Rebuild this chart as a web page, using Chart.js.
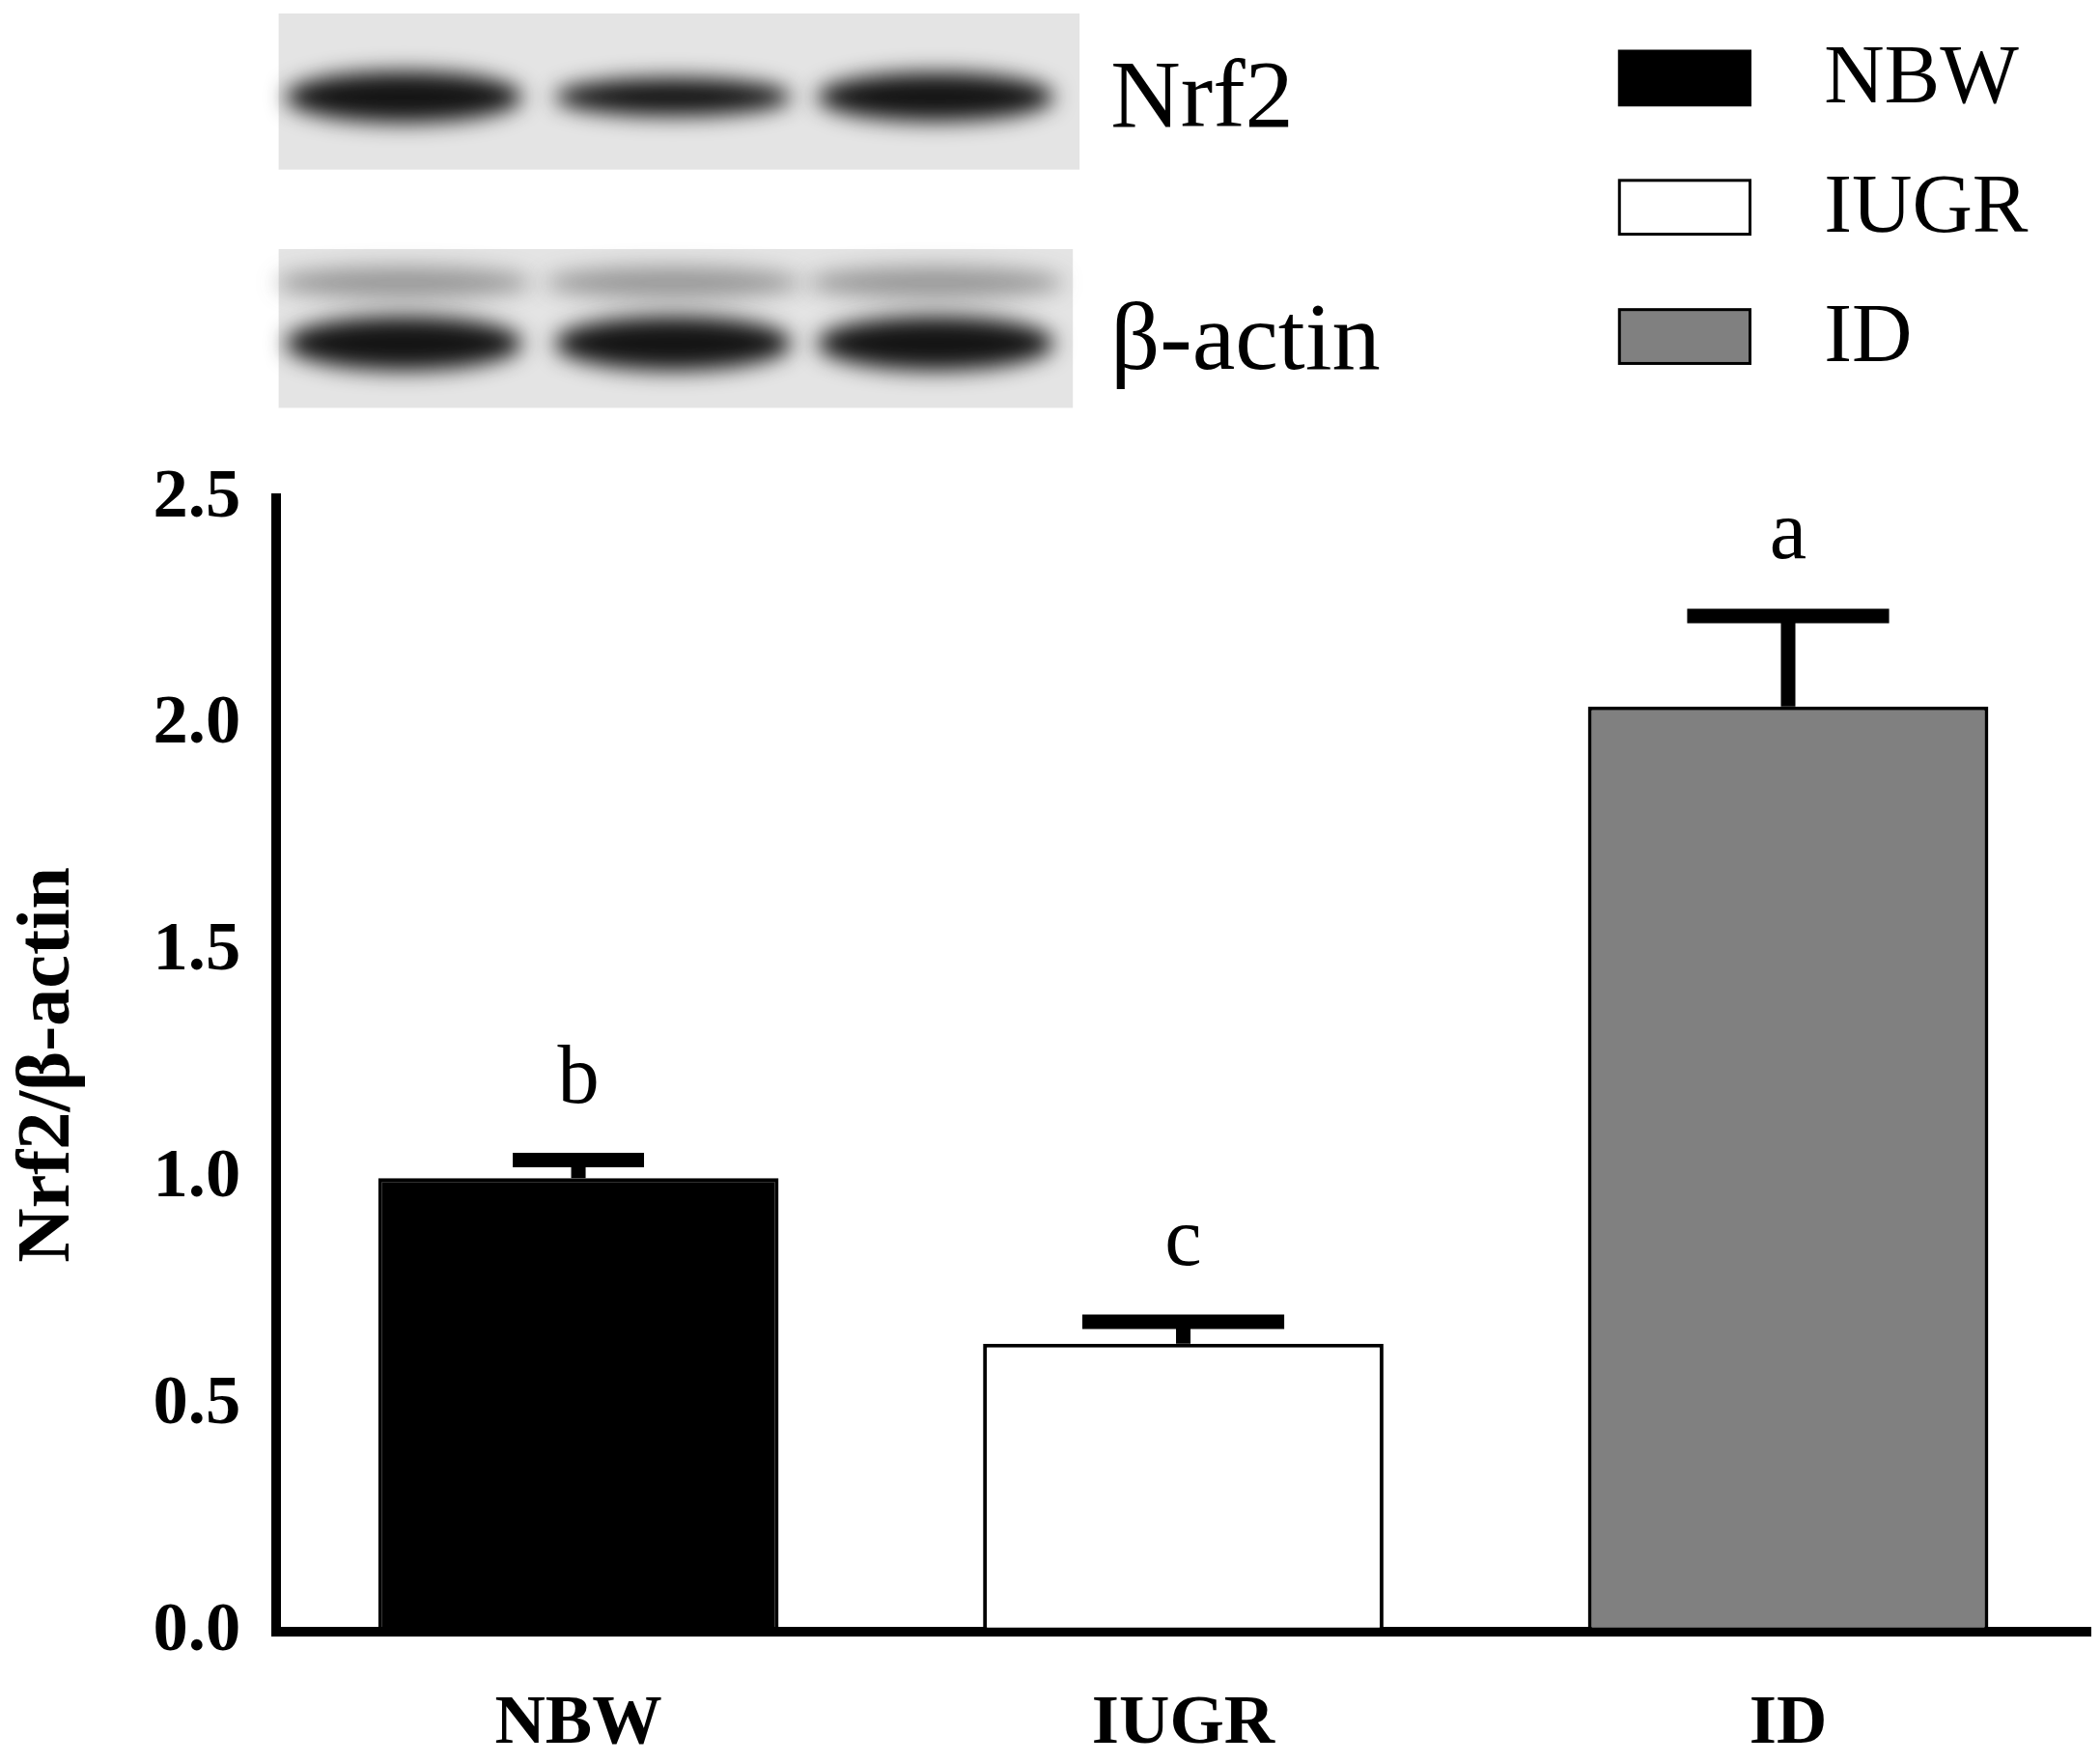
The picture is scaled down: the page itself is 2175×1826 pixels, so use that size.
<!DOCTYPE html>
<html>
<head>
<meta charset="utf-8">
<script src="https://cdn.jsdelivr.net/npm/chart.js@4.4.0/dist/chart.umd.min.js"></script>
<style>
  html, body { margin: 0; padding: 0; background: #fff; }
  #wrap { width: 2175px; height: 1826px; position: relative; }
</style>
</head>
<body>
<div id="wrap"><canvas id="chart"></canvas></div>
<script>
const groups = ["NBW", "IUGR", "ID"];
const means = [1.0, 0.635, 2.04];
const errors = [0.04, 0.048, 0.2];
const letters = ["b", "c", "a"];
const barColors = ["#000000", "#ffffff", "#808080"];
const yTicks = ["0.0", "0.5", "1.0", "1.5", "2.0", "2.5"];
const blotLabels = ["Nrf2", "β-actin"];

const S = 2175 / 1560;
const SERIF = "'Liberation Serif', 'Times New Roman', serif";

// blot picture, legend, error bars and letters
const extras = {
    id: "extras",
    afterDatasetsDraw(chart) {
        const ctx = chart.ctx;
        const meta = chart.getDatasetMeta(0);
        const y = chart.scales.y;
        ctx.save();

        // === error bars + letters ===
        meta.data.forEach((bar, i) => {
            const top = y.getPixelForValue(means[i] + errors[i]);
            ctx.strokeStyle = "#000";
            ctx.lineWidth = 15;
            ctx.beginPath();
            ctx.moveTo(bar.x, bar.y);
            ctx.lineTo(bar.x, top);
            ctx.moveTo(bar.x - 75 * S * (i === 0 ? 0.65 : 1), top);
            ctx.lineTo(bar.x + 75 * S * (i === 0 ? 0.65 : 1), top);
            ctx.stroke();
            ctx.fillStyle = "#000";
            ctx.font = `${62 * S}px ${SERIF}`;
            ctx.textAlign = "center";
            ctx.textBaseline = "bottom";
            ctx.fillText(letters[i], bar.x, top - 28 * S);
        });

        // === western blot strips ===
        const strips = [[207, 10, 595, 116], [207, 185, 590, 118]];
        strips.forEach((r, k) => {
            const [x, yy, w, h] = r.map(v => v * S);
            ctx.fillStyle = "#e4e4e4";
            ctx.fillRect(x, yy, w, h);
            ctx.filter = `blur(${8 * S}px)`;
            const lanes = [[300, k === 0 ? 0.95 : 1], [500, k === 0 ? 0.7 : 1], [695, k === 0 ? 0.9 : 1]];
            lanes.forEach(([cx, s]) => {
                if (k === 1) {
                    ctx.fillStyle = "rgba(60,60,60,0.45)";
                    ctx.beginPath();
                    ctx.ellipse(cx * S, (yy / S + 25) * S, 95 * S, 12 * S, 0, 0, Math.PI * 2);
                    ctx.fill();
                }
                ctx.fillStyle = "#141414";
                ctx.beginPath();
                ctx.ellipse(cx * S, (yy / S + (k === 0 ? 62 : 70)) * S, 88 * S, 20 * S * s, 0, 0, Math.PI * 2);
                ctx.fill();
            });
            ctx.filter = "none";
        });
        ctx.fillStyle = "#000";
        ctx.font = `${72 * S}px ${SERIF}`;
        ctx.textAlign = "left";
        ctx.textBaseline = "middle";
        ctx.fillText(blotLabels[0], 825 * S, 75 * S);
        ctx.fillText(blotLabels[1], 825 * S, 255 * S);

        // === legend ===
        groups.forEach((g, i) => {
            const by = (38 + i * 96) * S;
            ctx.fillStyle = barColors[i];
            ctx.fillRect(1203 * S, by, 97 * S, 40 * S);
            ctx.strokeStyle = "#000";
            ctx.lineWidth = 3;
            ctx.strokeRect(1203 * S, by, 97 * S, 40 * S);
            ctx.fillStyle = "#000";
            ctx.font = `${62 * S}px ${SERIF}`;
            ctx.fillText(g, 1355 * S, by + 22 * S);
        });
        ctx.restore();
    }
};

new Chart(document.getElementById("chart"), {
    type: "bar",
    data: {
        labels: groups,
        datasets: [{
            data: means,
            backgroundColor: barColors,
            borderColor: "#000",
            borderWidth: 4,
            borderSkipped: false,
            categoryPercentage: 1,
            barPercentage: 0.662
        }]
    },
    plugins: [extras],
    options: {
        responsive: true,
        maintainAspectRatio: false,
        animation: false,
        layout: { padding: { top: 370 * S, right: 7 * S, left: 0, bottom: 0 } },
        plugins: { legend: { display: false }, tooltip: { enabled: false } },
        scales: {
            x: {
                afterFit(s) { s.height = 1826 - 1212 * S; },
                grid: { display: false, drawTicks: false },
                border: { color: "#000", width: 10 },
                ticks: {
                    color: "#000", padding: 38 * S,
                    font: { family: SERIF, size: 52 * S, weight: "bold" }
                }
            },
            y: {
                min: 0, max: 2.5,
                afterFit(s) { s.width = 205 * S; },
                grid: { display: false, drawOnChartArea: false, drawTicks: true, tickLength: 22 * S, tickWidth: 10, tickColor: "#000" },
                border: { color: "#000", width: 10 },
                title: {
                    display: true, text: "Nrf2/β-actin", color: "#000",
                    font: { family: SERIF, size: 56 * S, weight: "bold" }
                },
                ticks: {
                    stepSize: 0.5, color: "#000", padding: 6,
                    font: { family: SERIF, size: 52 * S, weight: "bold" },
                    callback: (v, i) => yTicks[i]
                }
            }
        }
    }
});
</script>
</body>
</html>
